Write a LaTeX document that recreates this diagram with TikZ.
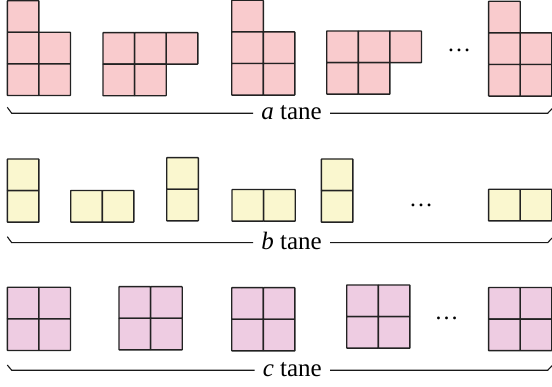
\documentclass[tikz,border=0pt]{standalone}
\usepackage{fontspec}
\setmainfont{Liberation Serif}
\newfontfamily\tanefont{Liberation Serif}
\definecolor{tilepink}{HTML}{F9CBCD}
\definecolor{tileyellow}{HTML}{FAF7CF}
\definecolor{tileviolet}{HTML}{EECCE2}
\definecolor{tileedge}{HTML}{222222}
% one unit cell of a tiling piece, top-left corner given
\newcommand\tilecell[3]{\filldraw[tile,fill=#3] (#1,#2) rectangle ++(31.6,31.6);}
% vertical domino
\newcommand\tileV[3]{\tilecell{#1}{#2}{#3}\tilecell{#1}{#2+31.6}{#3}}
% horizontal domino
\newcommand\tileH[3]{\tilecell{#1}{#2}{#3}\tilecell{#1+31.6}{#2}{#3}}
% 2x2 square
\newcommand\tileQ[3]{\tileH{#1}{#2}{#3}\tileH{#1}{#2+31.6}{#3}}
% 2x2 square with one cell on top-left
\newcommand\tileL[3]{\tilecell{#1}{#2}{#3}\tileQ{#1}{#2+31.6}{#3}}
% three cells over two cells
\newcommand\tileP[3]{\tilecell{#1}{#2}{#3}\tilecell{#1+31.6}{#2}{#3}\tilecell{#1+63.2}{#2}{#3}%
  \tileH{#1}{#2+31.6}{#3}}
% flat brace with a centred label
\newcommand\tanebrace[5]{%
  \coordinate (#5L) at (7.3,#2);
  \coordinate (#5R) at (552,#3);
  \node[tanelabel,anchor=base east] (#5) at (330,#1+6.5) {#4};
  \draw[braceline] (#5L) -- (11.7,#1) coordinate (#5L2) -- (#5L2 -| #5.west);
  \draw[braceline] (#5.east |- #5L2) -- (547.7,#1) -- (#5R);}
\begin{document}
\begin{tikzpicture}[x=1pt,y=-1pt,
  tile/.style={draw=tileedge,line width=1.4pt,rounded corners=0.5pt},
  braceline/.style={draw=black!90,line width=1.1pt},
  tanelabel/.style={inner xsep=8pt,inner ysep=0pt,font=\tanefont\fontsize{25}{28}\selectfont},
  more/.style={inner sep=0pt,font=\tanefont\fontsize{24}{28}\selectfont}]
\useasboundingbox (0,0) rectangle (552,387);
% row of pieces counted by a
\tileL{7.3}{0.7}{tilepink}
\tileP{103}{32.6}{tilepink}
\tileL{231.7}{0.3}{tilepink}
\tileP{326.7}{31}{tilepink}
\node[more,anchor=base] (adots) at (459,52) {…};
\tileL{488.6}{1.3}{tilepink}
\tanebrace{113.3}{107.3}{108.7}{\textit{a} tane}{a}
% row of pieces counted by b
\tileV{7.3}{159}{tileyellow}
\tileH{70.7}{190.5}{tileyellow}
\tileV{166.7}{157.7}{tileyellow}
\tileH{232}{189.5}{tileyellow}
\tileV{321.3}{159}{tileyellow}
\node[more,anchor=base] (bdots) at (421,207) {…};
\tileH{488.6}{189.3}{tileyellow}
\tanebrace{242.7}{236.7}{238}{\textit{b} tane}{b}
% row of pieces counted by c
\tileQ{7.3}{287.3}{tileviolet}
\tileQ{119}{286.7}{tileviolet}
\tileQ{231.7}{287.7}{tileviolet}
\tileQ{346.7}{285}{tileviolet}
\node[more,anchor=base] (cdots) at (446.7,320) {…};
\tileQ{488.6}{287.5}{tileviolet}
\tanebrace{370.3}{365}{365.7}{\textit{c} tane}{c}
\end{tikzpicture}
\end{document}
